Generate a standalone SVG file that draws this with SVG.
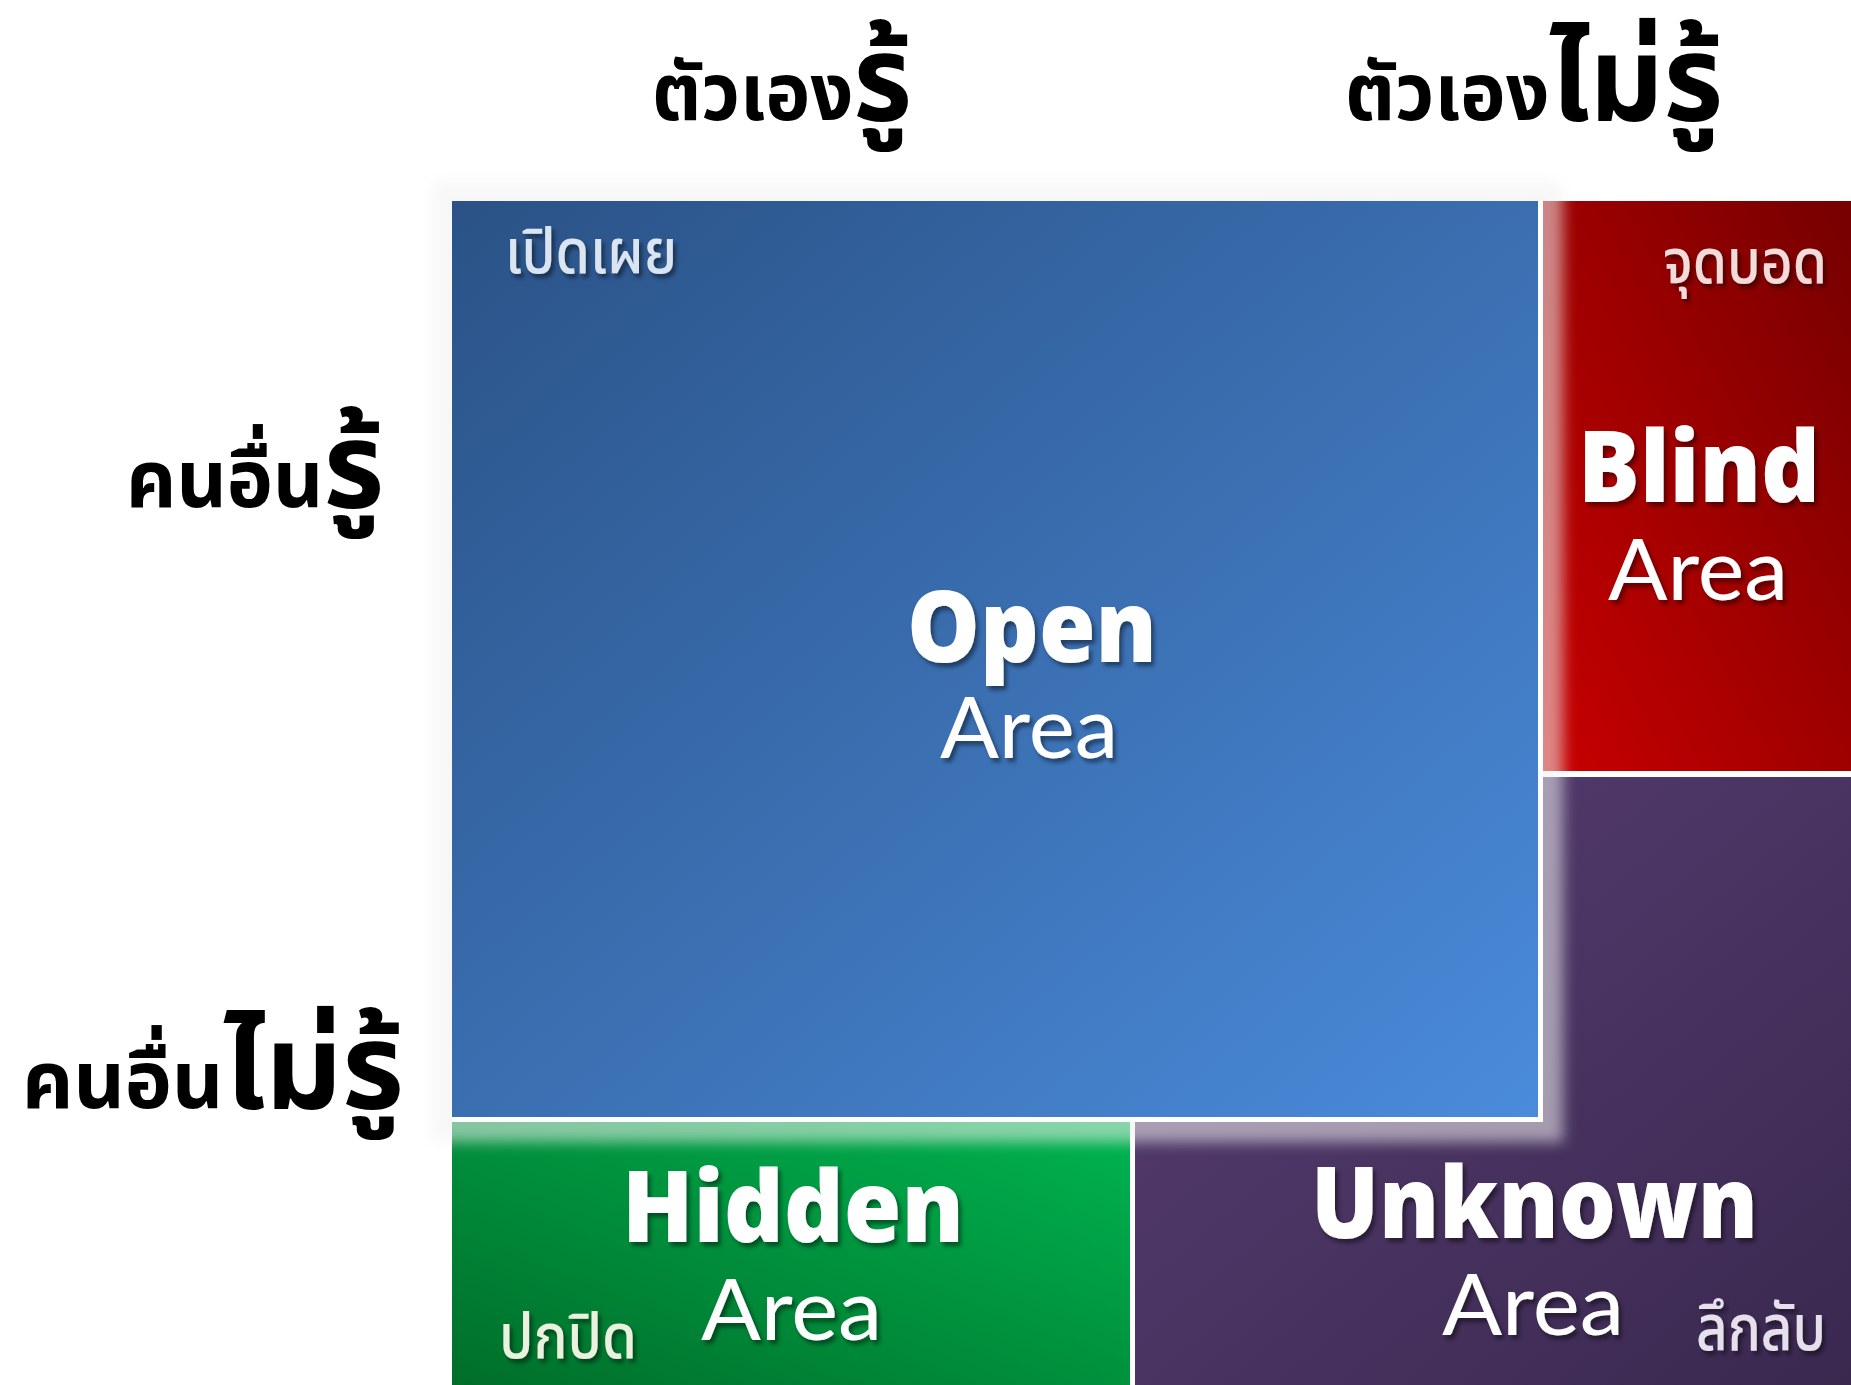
<svg xmlns="http://www.w3.org/2000/svg" width="1851" height="1385" viewBox="0 0 1851 1385">
<defs>
<linearGradient id="gOpen" x1="0" y1="0" x2="1" y2="1"><stop offset="0" stop-color="#2a5286"/><stop offset="1" stop-color="#4a8bdb"/></linearGradient>
<linearGradient id="gBlind" x1="0" y1="1" x2="1" y2="0"><stop offset="0" stop-color="#c80000"/><stop offset="1" stop-color="#760000"/></linearGradient>
<linearGradient id="gHidden" x1="0" y1="1" x2="1" y2="0"><stop offset="0" stop-color="#006e2a"/><stop offset="1" stop-color="#00b450"/></linearGradient>
<linearGradient id="gUnknown" x1="0" y1="0" x2="1" y2="1"><stop offset="0" stop-color="#583f74"/><stop offset="1" stop-color="#3a284f"/></linearGradient>
<filter id="glow" x="-10%" y="-10%" width="120%" height="120%"><feGaussianBlur stdDeviation="7"/></filter>
<filter id="ts" x="-10%" y="-20%" width="120%" height="140%"><feDropShadow dx="3" dy="4" stdDeviation="2" flood-color="#000" flood-opacity="0.45"/></filter>
<style>
.title{font-family:"Open Sans","Lato",sans-serif;font-weight:800;fill:#fff;filter:url(#ts)}
.area{font-family:"Lato","Open Sans",sans-serif;font-weight:400;fill:#fff;filter:url(#ts)}
.th{font-family:"Noto Sans Thai","Noto Sans Thai Looped","Noto Sans",sans-serif;font-weight:500;filter:url(#ts)}
.hd{font-family:"Noto Sans Thai","Noto Sans",sans-serif;font-weight:700;fill:#000}
</style>
</defs>
<rect width="1851" height="1385" fill="#fff"/>
<g id="blind"><rect x="1543" y="201" width="308" height="570" fill="url(#gBlind)"/></g>
<g id="unknown"><rect x="1135" y="777" width="716" height="608" fill="url(#gUnknown)"/></g>
<g id="hidden"><rect x="452" y="1122" width="678" height="263" fill="url(#gHidden)"/></g>
<rect x="432" y="181" width="1131" height="961" fill="#f2f2f2" opacity="0.55" filter="url(#glow)"/>
<g id="open"><rect x="452" y="201" width="1086" height="916" fill="url(#gOpen)"/>
<rect x="1538" y="201" width="5" height="921" fill="#fff"/><rect x="452" y="1117" width="1091" height="5" fill="#fff"/>
</g>
<g id="labels">
<text class="title" x="907" y="662" font-size="100" textLength="250" lengthAdjust="spacingAndGlyphs">Open</text>
<text class="area" x="940" y="758" font-size="86" textLength="178" lengthAdjust="spacingAndGlyphs">Area</text>
<text class="title" x="1578" y="502" font-size="100" textLength="242" lengthAdjust="spacingAndGlyphs">Blind</text>
<text class="area" x="1608" y="600" font-size="86" textLength="180" lengthAdjust="spacingAndGlyphs">Area</text>
<text class="title" x="622" y="1242" font-size="100" textLength="342" lengthAdjust="spacingAndGlyphs">Hidden</text>
<text class="area" x="701" y="1340" font-size="86" textLength="181" lengthAdjust="spacingAndGlyphs">Area</text>
<text class="title" x="1311" y="1238" font-size="100" textLength="447" lengthAdjust="spacingAndGlyphs">Unknown</text>
<text class="area" x="1442" y="1335" font-size="86" textLength="182" lengthAdjust="spacingAndGlyphs">Area</text>
<text class="th" x="505" y="273" font-size="62" fill="#dbe5f1" textLength="172" lengthAdjust="spacingAndGlyphs">เปิดเผย</text>
<text class="th" x="1663" y="283" font-size="62" fill="#f2dcdb" textLength="164" lengthAdjust="spacingAndGlyphs">จุดบอด</text>
<text class="th" x="499" y="1358" font-size="62" fill="#ebf1de" textLength="138" lengthAdjust="spacingAndGlyphs">ปกปิด</text>
<text class="th" x="1696" y="1350" font-size="64" fill="#e5e0ec" textLength="130" lengthAdjust="spacingAndGlyphs">ลึกลับ</text>
</g>
<g id="headers">
<text class="hd" x="652" y="120" font-size="80" textLength="260" lengthAdjust="spacingAndGlyphs">ตัวเอง<tspan font-size="120">รู้</tspan></text>
<text class="hd" x="1345" y="120" font-size="80" textLength="378" lengthAdjust="spacingAndGlyphs">ตัวเอง<tspan font-size="120">ไม่รู้</tspan></text>
<text class="hd" x="126" y="507" font-size="80" textLength="258" lengthAdjust="spacingAndGlyphs">คนอื่น<tspan font-size="120">รู้</tspan></text>
<text class="hd" x="22" y="1108" font-size="80" textLength="382" lengthAdjust="spacingAndGlyphs">คนอื่น<tspan font-size="120">ไม่รู้</tspan></text>
</g>
</svg>
